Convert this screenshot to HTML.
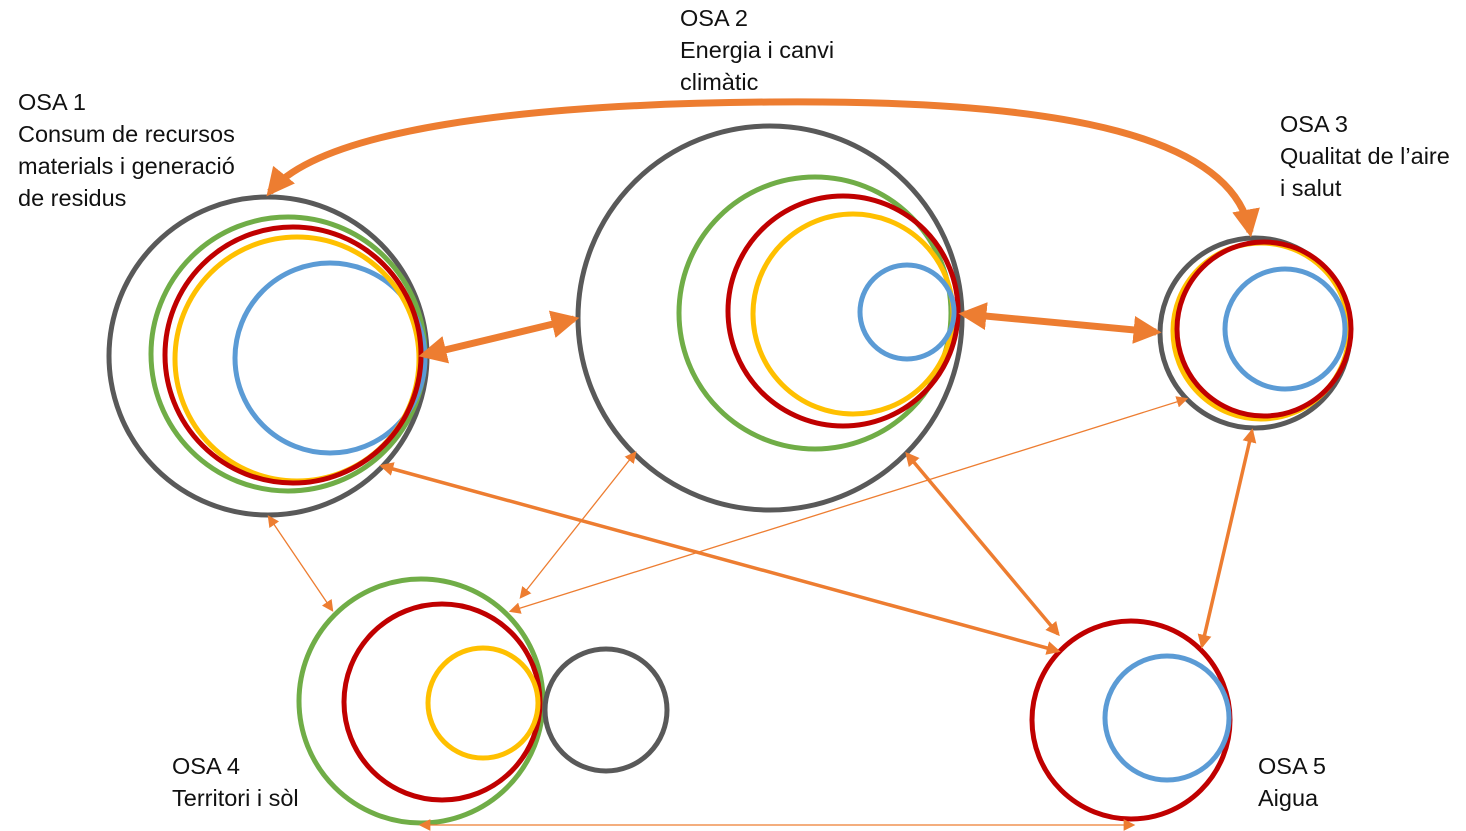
<!DOCTYPE html>
<html><head><meta charset="utf-8"><style>
html,body{margin:0;padding:0;background:#fff;}
svg{display:block}
text{font-family:"Liberation Sans",sans-serif;font-size:23.5px;fill:#111}
</style></head><body>
<svg width="1466" height="831" viewBox="0 0 1466 831" xmlns="http://www.w3.org/2000/svg">
<defs>
<marker id="a" viewBox="0 0 10 10" refX="8" refY="5" markerWidth="4" markerHeight="4" orient="auto-start-reverse" markerUnits="strokeWidth"><path d="M0,0 L10,5 L0,10 z" fill="#ed7d31"/></marker>
<marker id="b" viewBox="0 0 10 10" refX="8" refY="5" markerWidth="4" markerHeight="4" orient="auto-start-reverse" markerUnits="strokeWidth"><path d="M0,0 L10,5 L0,10 z" fill="#ed7d31"/></marker>
<marker id="c" viewBox="0 0 10 10" refX="8" refY="5" markerWidth="9" markerHeight="9" orient="auto-start-reverse" markerUnits="strokeWidth"><path d="M0,0 L10,5 L0,10 z" fill="#ed7d31"/></marker>
</defs>
<g fill="none" stroke-width="5">
<circle cx="268" cy="356" r="159" stroke="#595959"/>
<circle cx="288" cy="354" r="137" stroke="#70ad47"/>
<circle cx="330" cy="358" r="95" stroke="#5b9bd5"/>
<circle cx="297" cy="359" r="122" stroke="#ffc000"/>
<circle cx="293" cy="355" r="128" stroke="#c00000"/>
<circle cx="770" cy="318" r="192" stroke="#595959"/>
<circle cx="815" cy="313" r="136" stroke="#70ad47"/>
<circle cx="853" cy="314" r="100" stroke="#ffc000"/>
<circle cx="843" cy="311" r="115" stroke="#c00000"/>
<circle cx="907" cy="312" r="47" stroke="#5b9bd5"/>
<circle cx="1255" cy="333" r="95" stroke="#595959"/>
<circle cx="1261" cy="331" r="88" stroke="#ffc000"/>
<circle cx="1285" cy="329" r="60" stroke="#5b9bd5"/>
<circle cx="1264" cy="329" r="87" stroke="#c00000"/>
<circle cx="421" cy="701" r="122" stroke="#70ad47"/>
<circle cx="442" cy="702" r="98" stroke="#c00000"/>
<circle cx="483" cy="703" r="55" stroke="#ffc000"/>
<circle cx="606" cy="710" r="61" stroke="#595959"/>
<circle cx="1131" cy="720" r="99" stroke="#c00000"/>
<circle cx="1167" cy="718" r="62" stroke="#5b9bd5"/>
</g>
<g fill="none" stroke="#ed7d31">
<path d="M1250,232 C1230,120 1000,100 770,102 C520,104 320,130 270,192" stroke-width="7" marker-start="url(#b)" marker-end="url(#b)"/>
<line x1="424" y1="355" x2="574" y2="319" stroke-width="7" marker-start="url(#b)" marker-end="url(#b)"/>
<line x1="964" y1="314" x2="1156" y2="332" stroke-width="7" marker-start="url(#b)" marker-end="url(#b)"/>
<line x1="382" y1="466" x2="1058" y2="651" stroke-width="3.5" marker-start="url(#a)" marker-end="url(#a)"/>
<line x1="907" y1="454" x2="1058" y2="634" stroke-width="3.5" marker-start="url(#a)" marker-end="url(#a)"/>
<line x1="1252" y1="431" x2="1202" y2="646" stroke-width="3.5" marker-start="url(#a)" marker-end="url(#a)"/>
<line x1="269" y1="517" x2="332" y2="610" stroke-width="1.3" marker-start="url(#c)" marker-end="url(#c)"/>
<line x1="635" y1="453" x2="521" y2="597" stroke-width="1.3" marker-start="url(#c)" marker-end="url(#c)"/>
<line x1="1186" y1="399" x2="511" y2="611" stroke-width="1.3" marker-start="url(#c)" marker-end="url(#c)"/>
<line x1="421" y1="825" x2="1133" y2="825" stroke-width="1.3" marker-start="url(#c)" marker-end="url(#c)"/>
</g>
<text x="18" y="110">OSA 1</text>
<text x="18" y="142">Consum de recursos</text>
<text x="18" y="174">materials i generació</text>
<text x="18" y="206">de residus</text>
<text x="680" y="26">OSA 2</text>
<text x="680" y="58">Energia i canvi</text>
<text x="680" y="90">climàtic</text>
<text x="1280" y="132">OSA 3</text>
<text x="1280" y="164">Qualitat de l’aire</text>
<text x="1280" y="196">i salut</text>
<text x="172" y="774">OSA 4</text>
<text x="172" y="806">Territori i sòl</text>
<text x="1258" y="774">OSA 5</text>
<text x="1258" y="806">Aigua</text>
</svg>
</body></html>
